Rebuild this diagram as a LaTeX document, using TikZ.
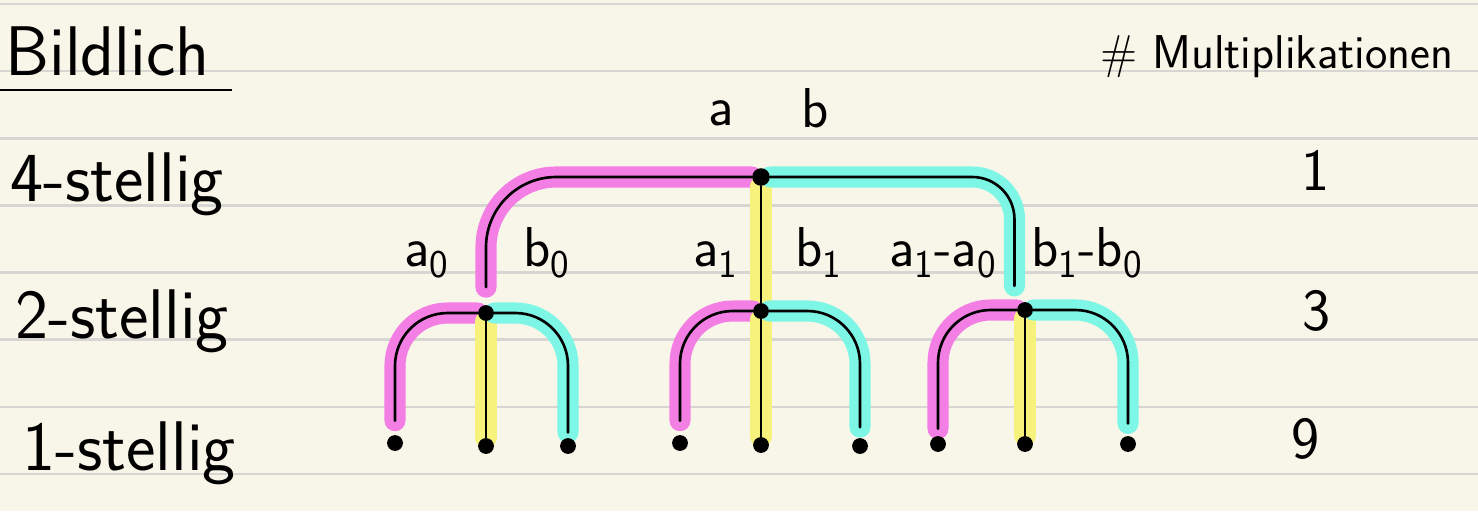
\documentclass[tikz,border=0pt]{standalone}
\usepackage{xcolor}
\usepackage{tikz}
\definecolor{paper}{HTML}{F8F6E9}
\definecolor{rule}{HTML}{D6D6D3}
\definecolor{hlpink}{HTML}{F47FE4}
\definecolor{hlcyan}{HTML}{7EF6E6}
\definecolor{hlyellow}{HTML}{F6F27C}
\pgfdeclarelayer{paperlayer}
\pgfdeclarelayer{edgelayer}
\pgfsetlayers{paperlayer,edgelayer,main}

\begin{document}
\begin{tikzpicture}[
  x=0.02cm, y=-0.02cm,
  dot/.style={circle, fill=black, inner sep=0pt, minimum size=9pt},
  rootdot/.style={dot, minimum size=10pt},
  rowlabel/.style={anchor=base west, inner sep=0pt,
    font=\sffamily\fontsize{40}{48}\selectfont},
  count/.style={anchor=base, inner sep=0pt,
    font=\sffamily\fontsize{34}{40}\selectfont},
  var/.style={anchor=base, inner sep=0pt,
    font=\sffamily\fontsize{32}{38}\selectfont},
  edge/.style={draw=black, line width=1.5pt, line cap=round},
  pinkedge/.style={edge, preaction={draw=hlpink, line width=12pt, line cap=round}},
  cyanedge/.style={edge, preaction={draw=hlcyan, line width=12pt, line cap=round}},
  yellowedge/.style={edge, preaction={draw=hlyellow, line width=12pt, line cap=round}}
]
\useasboundingbox (0,0) rectangle (1478,511);
% paper with ruled lines
\begin{pgfonlayer}{paperlayer}
\fill[paper] (0,0) rectangle (1478,511);
\foreach \k in {0,...,7}
  \draw[rule, line width=1.5pt] (0,4+67.15*\k) -- (1478,4+67.15*\k);
\end{pgfonlayer}

% left column
\node[rowlabel] (title) at (5,75) {Bildlich};
\draw[line width=1.6pt] (0,90) -- (232,90);
\node[rowlabel] (row4) at (10,201) {4-stellig};
\node[rowlabel] (row2) at (15,338) {2-stellig};
\node[rowlabel] (row1) at (22,470) {1-stellig};

% right column
\node[anchor=base west, inner sep=0pt, font=\sffamily\fontsize{27}{32}\selectfont]
  (mult) at (1100,68) {\# Multiplikationen};
\node[count] (cnt4) at (1316,190) {1};
\node[count] (cnt2) at (1317,330) {3};
\node[count] (cnt1) at (1306,458) {9};

% tree nodes
\node[rootdot] (r) at (761,177) {};
\node[dot] (n0) at (486,313) {};
\node[dot] (n1) at (761,311) {};
\node[dot] (n2) at (1025,310) {};
\node[dot] (l00) at (395,443) {};
\node[dot] (l01) at (486,446) {};
\node[dot] (l02) at (568,446) {};
\node[dot] (l10) at (680,443) {};
\node[dot] (l11) at (761,445) {};
\node[dot] (l12) at (860,446) {};
\node[dot] (l20) at (938,444) {};
\node[dot] (l21) at (1025,444) {};
\node[dot] (l22) at (1128,444) {};

% labels
\node[var] (ta) at (721,125) {a};
\node[var] (tb) at (815,127) {b};
\node[var] (va0) at (427,266) {a\textsubscript{0}};
\node[var] (vb0) at (547,266) {b\textsubscript{0}};
\node[var] (va1) at (716,266) {a\textsubscript{1}};
\node[var] (vb1) at (819,266) {b\textsubscript{1}};
\node[var] (vda) at (943,266) {a\textsubscript{1}-a\textsubscript{0}};
\node[var] (vdb) at (1087,266) {b\textsubscript{1}-b\textsubscript{0}};

% connectors
\begin{pgfonlayer}{edgelayer}
\draw[pinkedge, rounded corners=40pt, shorten >=10pt] (r.west) -| (n0.north);
\draw[yellowedge] (r.south) -- (n1.north);
\draw[cyanedge, rounded corners=24pt, shorten >=9pt] (r.east) -| ([xshift=-6pt]n2.north);
\draw[pinkedge, rounded corners=30pt, shorten >=8pt] (n0.west) -| (l00.north);
\draw[yellowedge] (n0.south) -- (l01.north);
\draw[cyanedge, rounded corners=30pt, shorten >=3pt] (n0.east) -| (l02.north);
\draw[pinkedge, rounded corners=30pt, shorten >=8pt] (n1.west) -| (l10.north);
\draw[yellowedge] (n1.south) -- (l11.north);
\draw[cyanedge, rounded corners=30pt, shorten >=6pt] (n1.east) -| (l12.north);
\draw[pinkedge, rounded corners=30pt, shorten >=4pt] (n2.west) -| (l20.north);
\draw[yellowedge] (n2.south) -- (l21.north);
\draw[cyanedge, rounded corners=30pt, shorten >=7pt] (n2.east) -| (l22.north);
\end{pgfonlayer}
\end{tikzpicture}
\end{document}
